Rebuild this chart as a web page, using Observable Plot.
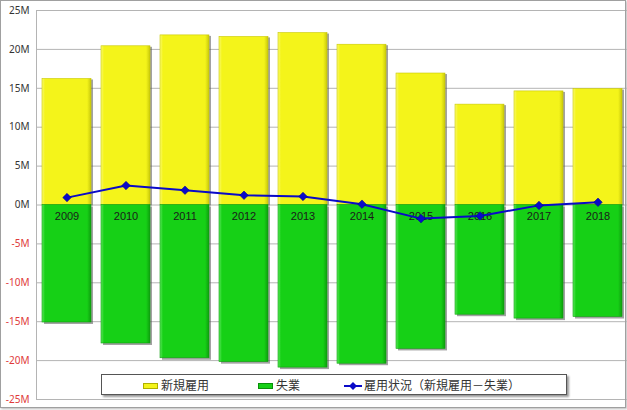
<!DOCTYPE html>
<html>
<head>
<meta charset="utf-8">
<script src="https://cdn.jsdelivr.net/npm/d3@7"></script>
<script src="https://cdn.jsdelivr.net/npm/@observablehq/plot@0.6"></script>
<style>
  html, body { margin: 0; padding: 0; background: #fff; }
  #wrap { position: relative; width: 627px; height: 410px; overflow: hidden; font-family: "Liberation Sans", Arial, sans-serif; }
  #frame { position: absolute; left: 0; top: 0; width: 624px; height: 406px; border: 1px solid #a0a0a0; box-shadow: 1px 1px 2px #bbb; pointer-events: none; }
  #legend { position: absolute; left: 101px; top: 374px; width: 464px; height: 19px; border: 1.5px solid #555; background: #fff; box-shadow: 2px 2px 2px #999;
            font-family: "Noto Sans CJK JP", sans-serif; font-size: 12px; color: #333; }
  .item { position: absolute; top: 0; height: 19px; line-height: 19px; white-space: nowrap; }
  .sw { display: inline-block; width: 15px; height: 6px; vertical-align: middle; margin-right: 3px; position: relative; top: -1px; border: 1px solid #888; box-sizing: border-box; }
</style>
</head>
<body>
<div id="wrap">
  <div id="chart"></div>
  <div id="legend"></div>
  <div id="frame"></div>
</div>
<script>
const years = ["2009","2010","2011","2012","2013","2014","2015","2016","2017","2018"];
const hires = [16.2, 20.4, 21.8, 21.6, 22.1, 20.6, 16.9, 12.9, 14.6, 14.9];
const losses = [-15.1, -17.8, -19.7, -20.2, -20.9, -20.4, -18.5, -14.1, -14.6, -14.4];
const net = [0.95, 2.5, 1.9, 1.25, 1.1, 0.1, -1.75, -1.4, -0.05, 0.35];
const yTicks = [-25, -20, -15, -10, -5, 0, 5, 10, 15, 20, 25];
const seriesNames = ["新規雇用", "失業", "雇用状況（新規雇用－失業）"];

const yellow = "#f4f41a";
const green = "#16d016";
const blue = "#0a0ac8";

const hireData = years.map((y, i) => ({year: y, v: hires[i]}));
const lossData = years.map((y, i) => ({year: y, v: losses[i]}));
const netData = years.map((y, i) => ({year: y, v: net[i]}));

const chart = Plot.plot({
  width: 627,
  height: 410,
  marginLeft: 36,
  marginRight: 0,
  marginTop: 10,
  marginBottom: 11,
  x: {type: "band", domain: years, paddingInner: 0.17, paddingOuter: 0.085, axis: null},
  y: {domain: [-25, 25], axis: null, label: null},
  marks: [
    Plot.gridY(yTicks, {stroke: "#b4b4b4", strokeOpacity: 1, strokeWidth: 1}),
    Plot.frame({anchor: "left", stroke: "#b4b4b4"}),
    Plot.axisY(yTicks.filter(d => d >= 0), {label: null, tickSize: 0, tickPadding: 7, tickFormat: d => d + "M", fill: "#333", fontSize: 10}),
    Plot.axisY(yTicks.filter(d => d < 0), {label: null, tickSize: 0, tickPadding: 7, tickFormat: d => d + "M", fill: "#e03a3a", fontSize: 10}),
    // shadows
    Plot.barY(hireData, {x: "year", y: "v", fill: "#555", fillOpacity: 0.55, dx: 2, dy: 1}),
    Plot.barY(lossData, {x: "year", y: "v", fill: "#555", fillOpacity: 0.55, dx: 2, dy: 2}),
    // bars
    Plot.barY(hireData, {x: "year", y: "v", fill: "url(#gy)", stroke: "#c8c800", strokeWidth: 0.6}),
    Plot.barY(lossData, {x: "year", y: "v", fill: "url(#gg)", stroke: "#0fa00f", strokeWidth: 0.6}),
    Plot.text(years, {x: d => d, y: 0, dy: 11, text: d => d, fontSize: 11, fill: "#1a1a1a", fontFamily: "Liberation Sans, Arial, sans-serif"}),
    Plot.line(netData, {x: "year", y: "v", stroke: blue, strokeWidth: 2}),
    Plot.dot(netData, {x: "year", y: "v", symbol: "square", rotate: 45, fill: blue, stroke: "#000090", strokeWidth: 0.5, r: 3.4})
  ]
});

// gradients for bevel look
const svg = d3.select(chart);
const defs = svg.insert("defs", ":first-child");
function grad(id, light, mid, dark) {
  const g = defs.append("linearGradient").attr("id", id).attr("x1", 0).attr("x2", 1).attr("y1", 0).attr("y2", 0);
  g.append("stop").attr("offset", "0%").attr("stop-color", light);
  g.append("stop").attr("offset", "6%").attr("stop-color", mid);
  g.append("stop").attr("offset", "92%").attr("stop-color", mid);
  g.append("stop").attr("offset", "100%").attr("stop-color", dark);
}
grad("gy", "#fafa70", yellow, "#c9c90c");
grad("gg", "#5ee85e", green, "#0e9e0e");

document.getElementById("chart").appendChild(chart);

// legend
const legend = document.getElementById("legend");
const items = [
  {left: 41, html: `<span class="sw" style="background:${yellow};border-color:#b0b000"></span>${seriesNames[0]}`},
  {left: 156, html: `<span class="sw" style="background:${green};border-color:#0a900a"></span>${seriesNames[1]}`},
  {left: 242, html: `<svg width="18" height="10" style="vertical-align:middle;margin-right:2px;position:relative;top:-1px"><line x1="0" x2="18" y1="5" y2="5" stroke="${blue}" stroke-width="2"/><path d="M9,1 L13,5 L9,9 L5,5Z" fill="${blue}"/></svg>${seriesNames[2]}`}
];
for (const it of items) {
  const d = document.createElement("div");
  d.className = "item";
  d.style.left = it.left + "px";
  d.innerHTML = it.html;
  legend.appendChild(d);
}
</script>
</body>
</html>
